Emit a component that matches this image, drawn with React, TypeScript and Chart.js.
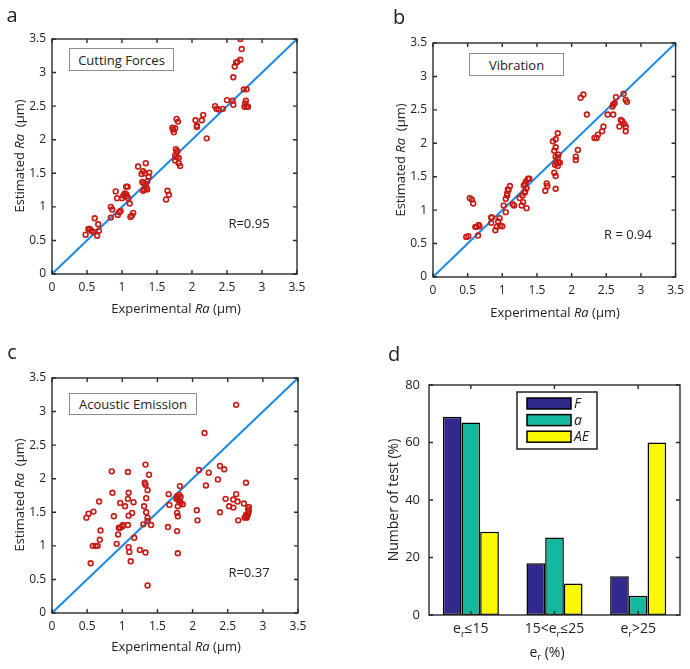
import React, { useEffect, useRef } from "react";
import { Chart, registerables } from "chart.js";
Chart.register(...registerables);

const FONT = '"Open Sans", "DejaVu Sans", sans-serif';
const RED = "#c81a14";
const BLUE = "#1e8ae6";
const AXIS = "#2b2b2b";
const TXT = "#222222";

// ---- data ----
const raTicks = [0, 0.5, 1, 1.5, 2, 2.5, 3, 3.5];
const diagX = [0, 3.5];
const diagY = [0, 3.5];

// Panel a: cutting forces
const cfExp = [
  0.48, 0.52, 0.54, 0.56, 0.59, 0.61, 0.645, 0.66, 0.67, 0.84,
  0.84, 0.86, 0.91, 0.93, 0.94, 0.96, 0.98, 1.0, 1.02, 1.04,
  1.06, 1.06, 1.08, 1.07, 1.09, 1.11, 1.12, 1.14, 1.16, 1.23,
  1.28, 1.3, 1.33, 1.34, 1.29, 1.31, 1.34, 1.35, 1.36, 1.3,
  1.32, 1.38, 1.39, 1.36, 1.63, 1.65, 1.67, 1.72, 1.73, 1.74,
  1.76, 1.78, 1.8, 1.77, 1.79, 1.78, 1.76, 1.78, 1.81, 1.76,
  1.81, 1.83, 2.05, 2.07, 2.07, 2.14, 2.16, 2.21, 2.33, 2.35,
  2.38, 2.44, 2.5, 2.58, 2.59, 2.59, 2.61, 2.63, 2.65, 2.69,
  2.71, 2.69, 2.74, 2.78, 2.75, 2.78, 2.8, 2.77, 2.76,
];
const cfEst = [
  0.585, 0.67, 0.67, 0.645, 0.625, 0.83, 0.57, 0.74, 0.645, 0.84,
  1.0, 0.96, 1.23, 1.13, 0.88, 0.92, 0.94, 1.13, 1.17, 1.2,
  1.19, 1.3, 1.3, 1.16, 1.13, 1.05, 0.85, 0.87, 0.91, 1.6,
  1.49, 1.53, 1.5, 1.65, 1.37, 1.35, 1.34, 1.28, 1.38, 1.24,
  1.26, 1.45, 1.51, 1.26, 1.11, 1.24, 1.18, 2.18, 2.15, 2.11,
  2.17, 2.31, 2.27, 1.86, 1.83, 1.82, 1.77, 1.74, 1.73, 1.69,
  1.65, 1.61, 2.29, 2.21, 2.19, 2.29, 2.37, 2.02, 2.5, 2.46,
  2.45, 2.46, 2.59, 2.58, 2.52, 2.93, 3.09, 3.15, 3.16, 3.5,
  3.35, 3.19, 2.75, 2.75, 2.49, 2.49, 2.49, 2.58, 2.54,
];

// Panel b: vibration
const vbExp = [
  0.48, 0.51, 0.53, 0.56, 0.58, 0.61, 0.63, 0.66, 0.67, 0.65,
  0.84, 0.85, 0.84, 0.9, 0.92, 0.94, 0.96, 0.97, 1.0, 1.02,
  1.05, 1.05, 1.07, 1.09, 1.11, 1.08, 1.07, 1.15, 1.17, 1.25,
  1.28, 1.29, 1.3, 1.32, 1.31, 1.33, 1.33, 1.35, 1.34, 1.37,
  1.39, 1.35, 1.62, 1.64, 1.65, 1.73, 1.75, 1.77, 1.75, 1.77,
  1.8, 1.77, 1.77, 1.8, 1.81, 1.76, 1.78, 1.81, 1.83, 1.8,
  1.77, 2.06, 2.06, 2.09, 2.13, 2.17, 2.22, 2.33, 2.36, 2.38,
  2.44, 2.46, 2.52, 2.59, 2.6, 2.6, 2.62, 2.64, 2.69, 2.71,
  2.73, 2.76, 2.78, 2.78, 2.75, 2.78, 2.8,
];
const vbEst = [
  0.6, 0.61, 1.18, 1.16, 1.1, 0.75, 0.75, 0.78, 0.76, 0.62,
  0.89, 0.89, 0.81, 0.7, 0.75, 0.83, 0.88, 0.77, 0.76, 1.07,
  0.97, 1.17, 1.22, 1.3, 1.36, 1.31, 1.25, 1.09, 1.07, 1.18,
  1.07, 1.22, 1.12, 1.26, 1.37, 1.39, 1.28, 1.33, 1.43, 1.47,
  1.47, 1.03, 1.29, 1.4, 1.36, 2.03, 1.89, 1.51, 1.56, 2.06,
  2.15, 1.94, 1.8, 1.78, 1.83, 1.68, 1.71, 1.71, 1.71, 1.66,
  1.32, 1.8, 1.75, 1.9, 2.68, 2.73, 2.43, 2.08, 2.08, 2.13,
  2.18, 2.25, 2.43, 2.55, 2.43, 2.58, 2.6, 2.69, 2.25, 2.35,
  2.33, 2.29, 2.25, 2.18, 2.74, 2.65, 2.62,
];

// Panel c: acoustic emission
const aeExp = [
  0.49, 0.52, 0.59, 0.55, 0.58, 0.62, 0.65, 0.68, 0.69, 0.67,
  0.85, 0.86, 0.88, 0.92, 0.94, 0.95, 0.97, 1.0, 1.01, 0.97,
  1.04, 1.08, 1.08, 1.09, 1.08, 1.09, 1.09, 1.1, 1.12, 1.14,
  1.16, 1.17, 1.25, 1.3, 1.31, 1.32, 1.33, 1.33, 1.34, 1.34,
  1.33, 1.36, 1.36, 1.36, 1.38, 1.36, 1.41, 1.65, 1.66, 1.67,
  1.77, 1.78, 1.79, 1.81, 1.83, 1.8, 1.82, 1.78, 1.79, 1.78,
  1.79, 1.82, 1.83, 1.86, 1.79, 2.06, 2.07, 2.09, 2.17, 2.19,
  2.23, 2.36, 2.39, 2.39, 2.45, 2.47, 2.52, 2.58, 2.58, 2.62,
  2.62, 2.64, 2.65, 2.73, 2.76, 2.74, 2.76, 2.78, 2.79, 2.8,
  2.8, 2.79, 2.77, 2.76,
];
const aeEst = [
  1.42, 1.48, 1.51, 0.74, 1.0, 1.0, 1.0, 1.09, 1.23, 1.66,
  2.11, 1.79, 1.44, 1.03, 1.17, 1.27, 1.27, 1.29, 1.31, 1.64,
  1.59, 2.1, 1.7, 1.79, 1.31, 1.45, 0.98, 0.91, 0.77, 1.49,
  1.65, 1.12, 0.94, 1.32, 1.59, 1.94, 1.91, 2.21, 1.71, 1.5,
  0.9, 1.83, 1.42, 1.37, 2.06, 0.41, 1.31, 1.28, 1.77, 1.61,
  1.7, 1.74, 1.72, 1.76, 1.73, 1.68, 1.66, 1.49, 1.44, 1.22,
  0.89, 1.89, 1.64, 1.62, 1.59, 1.53, 1.38, 2.13, 2.68, 1.9,
  2.09, 1.99, 2.19, 1.5, 2.14, 1.7, 1.59, 1.57, 1.69, 3.1,
  1.77, 1.66, 1.38, 1.63, 1.94, 1.42, 1.44, 1.45, 1.48, 1.52,
  1.58, 1.55, 1.42, 1.46,
];

// Panel d: error classes
const errCats = ["e_r≤15", "15<e_r≤25", "e_r>25"];
const seriesNames = ["F", "a", "AE"];
const errF = [69, 18, 13.5];
const errA = [67, 27, 6.7];
const errAE = [29, 11, 60];
const pctTicks = [0, 20, 40, 60, 80];

// ---- plugins ----
const boxPlugin = {
  id: "boxTicks",
  afterDraw(chart: any) {
    const { ctx, chartArea: a, scales } = chart;
    ctx.save();
    ctx.strokeStyle = AXIS;
    ctx.lineWidth = 1.4;
    const L = 4;
    ctx.beginPath();
    const xs = scales.x;
    xs.ticks.forEach((_t: any, i: number) => {
      const p = xs.getPixelForTick(i);
      ctx.moveTo(p, a.bottom);
      ctx.lineTo(p, a.bottom - L);
      ctx.moveTo(p, a.top);
      ctx.lineTo(p, a.top + L);
    });
    const ys = scales.y;
    ys.ticks.forEach((_t: any, i: number) => {
      const p = ys.getPixelForTick(i);
      ctx.moveTo(a.left, p);
      ctx.lineTo(a.left + L, p);
      ctx.moveTo(a.right, p);
      ctx.lineTo(a.right - L, p);
    });
    ctx.stroke();
    ctx.strokeRect(a.left, a.top, a.right - a.left, a.bottom - a.top);
    ctx.restore();
  },
};

const subLabelPlugin = {
  id: "subLabels",
  afterDraw(chart: any) {
    const { ctx, scales } = chart;
    const xs = scales.x;
    const labels: string[] = chart.data.labels;
    ctx.save();
    ctx.fillStyle = TXT;
    ctx.textBaseline = "alphabetic";
    const main = `14px ${FONT}`;
    const sub = `9px ${FONT}`;
    labels.forEach((lab, i) => {
      const parts = lab.split(/_(\w)/);
      let w = 0;
      parts.forEach((p, k) => {
        ctx.font = k % 2 ? sub : main;
        w += ctx.measureText(p).width;
      });
      let x = xs.getPixelForTick(i) - w / 2;
      const y = xs.top + 18;
      parts.forEach((p, k) => {
        ctx.font = k % 2 ? sub : main;
        ctx.fillText(p, x, k % 2 ? y + 4 : y);
        x += ctx.measureText(p).width;
      });
    });
    ctx.restore();
  },
};

const legendPlugin = {
  id: "boxLegend",
  afterDraw(chart: any) {
    const { ctx, chartArea: a } = chart;
    const bx = a.left + 88;
    const by = a.top + 7;
    ctx.save();
    ctx.fillStyle = "#ffffff";
    ctx.fillRect(bx, by, 80, 57);
    ctx.strokeStyle = "#111";
    ctx.lineWidth = 1.4;
    ctx.strokeRect(bx, by, 80, 57);
    chart.data.datasets.forEach((ds: any, i: number) => {
      const cy = by + 11.5 + i * 16.6;
      ctx.fillStyle = ds.backgroundColor;
      ctx.fillRect(bx + 10, cy - 5.5, 44, 11);
      ctx.strokeStyle = "#000";
      ctx.lineWidth = 1.5;
      ctx.strokeRect(bx + 10, cy - 5.5, 44, 11);
      ctx.fillStyle = TXT;
      ctx.font = `italic 14px ${FONT}`;
      ctx.textBaseline = "middle";
      ctx.fillText(ds.label, bx + 57, cy + 0.5);
    });
    ctx.restore();
  },
};

type Area = { L: number; R: number; T: number; B: number };
type Rect = { left: number; top: number; width: number; height: number };

function scatterConfig(exp: number[], est: number[], r: Rect, area: Area): any {
  const points = exp.map((x, i) => ({ x, y: est[i] }));
  const diag = diagX.map((x, i) => ({ x, y: diagY[i] }));
  const tickFont = { family: FONT, size: 12 };
  return {
    type: "scatter",
    data: {
      datasets: [
        {
          type: "line",
          data: diag,
          borderColor: BLUE,
          borderWidth: 2,
          pointRadius: 0,
          fill: false,
          order: 2,
        },
        {
          type: "scatter",
          data: points,
          pointRadius: 2.4,
          pointBorderWidth: 1.6,
          pointBorderColor: RED,
          pointBackgroundColor: "rgba(255,255,255,0)",
          order: 1,
        },
      ],
    },
    options: {
      animation: false,
      responsive: false,
      events: [],
      layout: { padding: { left: 0, top: area.T - r.top, right: r.left + r.width - area.R, bottom: 0 } },
      plugins: { legend: { display: false }, tooltip: { enabled: false } },
      scales: {
        x: {
          type: "linear",
          min: 0,
          max: 3.5,
          afterBuildTicks: (s: any) => {
            s.ticks = raTicks.map((v) => ({ value: v }));
          },
          ticks: { font: tickFont, color: TXT, padding: 6, maxRotation: 0, callback: (v: number) => String(v) },
          grid: { display: false, drawTicks: false },
          border: { display: false },
          afterFit: (s: any) => {
            s.height = r.top + r.height - area.B;
          },
        },
        y: {
          type: "linear",
          min: 0,
          max: 3.5,
          afterBuildTicks: (s: any) => {
            s.ticks = raTicks.map((v) => ({ value: v }));
          },
          ticks: { font: tickFont, color: TXT, padding: 6, callback: (v: number) => String(v) },
          grid: { display: false, drawTicks: false },
          border: { display: false },
          afterFit: (s: any) => {
            s.width = area.L - r.left;
          },
        },
      },
    },
    plugins: [boxPlugin],
  };
}

function barConfig(r: Rect, area: Area): any {
  const tickFont = { family: FONT, size: 13 };
  const colors = ["#312a8c", "#14b89e", "#f9f800"];
  const vals = [errF, errA, errAE];
  return {
    type: "bar",
    data: {
      labels: errCats,
      datasets: seriesNames.map((n, i) => ({
        label: n,
        data: vals[i],
        backgroundColor: colors[i],
        borderColor: "#000",
        borderWidth: 1.5,
        borderSkipped: false,
        categoryPercentage: 0.67,
        barPercentage: 1,
      })),
    },
    options: {
      animation: false,
      responsive: false,
      events: [],
      layout: { padding: { left: 0, top: area.T - r.top, right: r.left + r.width - area.R, bottom: 0 } },
      plugins: { legend: { display: false }, tooltip: { enabled: false } },
      scales: {
        x: {
          ticks: { display: false },
          grid: { display: false, drawTicks: false },
          border: { display: false },
          afterFit: (s: any) => {
            s.height = r.top + r.height - area.B;
          },
        },
        y: {
          min: 0,
          max: 80,
          afterBuildTicks: (s: any) => {
            s.ticks = pctTicks.map((v) => ({ value: v }));
          },
          ticks: { font: tickFont, color: TXT, padding: 9 },
          grid: { display: false, drawTicks: false },
          border: { display: false },
          afterFit: (s: any) => {
            s.width = area.L - r.left;
          },
        },
      },
    },
    plugins: [boxPlugin, subLabelPlugin, legendPlugin],
  };
}

function ChartBox({ rect, make }: { rect: Rect; make: () => any }) {
  const ref = useRef<HTMLCanvasElement>(null);
  useEffect(() => {
    const c = new Chart(ref.current as HTMLCanvasElement, make());
    return () => c.destroy();
  }, []);
  return (
    <canvas
      ref={ref}
      width={rect.width}
      height={rect.height}
      style={{ position: "absolute", left: rect.left, top: rect.top, width: rect.width, height: rect.height }}
    />
  );
}

function Txt({
  x,
  y,
  size = 13,
  rot = false,
  children,
}: {
  x: number;
  y: number;
  size?: number;
  rot?: boolean;
  children: React.ReactNode;
}) {
  return (
    <div
      style={{
        position: "absolute",
        left: x,
        top: y,
        transform: `translate(-50%, -50%)${rot ? " rotate(-90deg)" : ""}`,
        fontFamily: FONT,
        fontSize: size,
        lineHeight: 1,
        color: TXT,
        whiteSpace: "nowrap",
      }}
    >
      {children}
    </div>
  );
}

function InsetBox({ left, top, width, height, text }: { left: number; top: number; width: number; height: number; text: string }) {
  return (
    <div
      style={{
        position: "absolute",
        left,
        top,
        width,
        height,
        border: "1px solid #8c8c8c",
        background: "#fff",
        boxSizing: "border-box",
        display: "flex",
        alignItems: "center",
        justifyContent: "center",
        fontFamily: FONT,
        fontSize: 13,
        color: TXT,
        whiteSpace: "nowrap",
      }}
    >
      {text}
    </div>
  );
}

const rectA = { left: 0, top: 0, width: 340, height: 330 };
const rectB = { left: 345, top: 0, width: 345, height: 330 };
const rectC = { left: 0, top: 335, width: 345, height: 334 };
const rectD = { left: 345, top: 335, width: 345, height: 334 };
const areaA = { L: 52, R: 297, T: 39, B: 274 };
const areaB = { L: 433, R: 677, T: 43, B: 277 };
const areaC = { L: 52, R: 298, T: 378, B: 613 };
const areaD = { L: 429, R: 680, T: 385, B: 615 };

const RaX = () => (
  <>
    Experimental <i>Ra</i> (μm)
  </>
);
const RaY = () => (
  <>
    Estimated <i>Ra</i>&nbsp; (μm)
  </>
);

export default function App() {
  useEffect(() => {
    document.body.style.margin = "0";
  }, []);
  return (
    <div style={{ position: "absolute", left: 0, top: 0, width: 690, height: 669, background: "#fff", overflow: "hidden" }}>
      <ChartBox rect={rectA} make={() => scatterConfig(cfExp, cfEst, rectA, areaA)} />
      <ChartBox rect={rectB} make={() => scatterConfig(vbExp, vbEst, rectB, areaB)} />
      <ChartBox rect={rectC} make={() => scatterConfig(aeExp, aeEst, rectC, areaC)} />
      <ChartBox rect={rectD} make={() => barConfig(rectD, areaD)} />

      <Txt x={12} y={15} size={20}>a</Txt>
      <Txt x={399} y={17} size={20}>b</Txt>
      <Txt x={12} y={352} size={20}>c</Txt>
      <Txt x={394} y={354} size={20}>d</Txt>

      <InsetBox left={69} top={48} width={105} height={23} text="Cutting Forces" />
      <InsetBox left={469} top={53} width={95} height={23} text="Vibration" />
      <InsetBox left={69} top={393} width={128} height={22} text="Acoustic Emission" />

      <Txt x={249} y={223}>R=0.95</Txt>
      <Txt x={628} y={234}>R = 0.94</Txt>
      <Txt x={249} y={572}>R=0.37</Txt>

      <Txt x={176} y={308}><RaX /></Txt>
      <Txt x={555} y={312}><RaX /></Txt>
      <Txt x={176} y={646}><RaX /></Txt>
      <Txt x={19} y={156} rot><RaY /></Txt>
      <Txt x={400} y={160} rot><RaY /></Txt>
      <Txt x={19} y={495} rot><RaY /></Txt>

      <Txt x={393} y={500} size={14} rot>Number of test (%)</Txt>
      <Txt x={547} y={653} size={14}>
        e<sub style={{ fontSize: "0.65em" }}>r</sub> (%)
      </Txt>
    </div>
  );
}
